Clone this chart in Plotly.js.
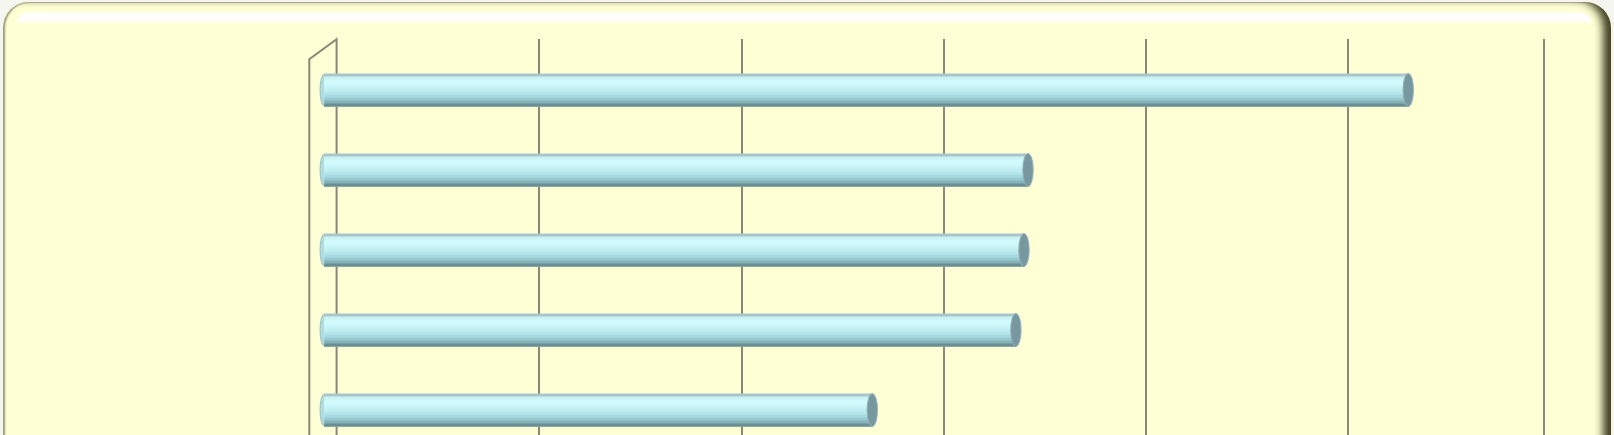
<!DOCTYPE html>
<html>
<head>
<meta charset="utf-8">
<script src="https://cdn.plot.ly/plotly-3.0.1.min.js"></script>
<style>
  html, body { margin: 0; padding: 0; width: 1614px; height: 435px; overflow: hidden; background: #F6F6F0; }
  #panel {
    position: absolute; left: 3px; top: 2px; width: 1608px; height: 700px;
    border-radius: 26px; background: #FFFFD5;
    box-shadow: inset -11px 0 8px -3px rgba(55,55,25,0.95),
                inset 3px 0 2px -1px rgba(120,120,90,0.75),
                inset 0 2px 1px -1px rgba(190,190,160,0.8);
  }
  #gloss {
    position: absolute; left: 13px; right: 19px; top: 10px; height: 13px;
    border-radius: 18px 18px 0 0;
    background: linear-gradient(to bottom, rgba(255,255,255,0.5) 0%, #FFFFFF 25%, #FFFFFF 55%, rgba(255,255,255,0) 100%);
  }
  #chart { position: absolute; left: 0; top: 0; width: 1614px; height: 435px; }
</style>
</head>
<body>
<div id="panel"><div id="gloss"></div></div>
<div id="chart"></div>
<script>
// ---- data ----
const categories = ['Category 1', 'Category 2', 'Category 3', 'Category 4', 'Category 5'];
const values = [5.36, 3.48, 3.46, 3.42, 2.71];
const tickValues = [0, 1, 2, 3, 4, 5];

// ---- styles / geometry ----
const W = 1614, H = 435;
const M = { l: 300, r: 50, t: 39, b: 0 };
const plotW = W - M.l - M.r, plotH = H - M.t - M.b;
const px2x = p => (p - M.l) / plotW;
const px2y = p => 1 - (p - M.t) / plotH;

const xRange = [-0.003, 5.967];
const backLeft = 336.6, backRight = 1544;
const pxPerUnit = (backRight - backLeft) / (xRange[1] - xRange[0]);
const depthShift = 13;                       // bars sit in front of the back wall
const x2Range = [-0.05, 5.967];
const x2Start = backLeft - depthShift + (x2Range[0] - xRange[0]) * pxPerUnit;
const x2End = x2Start + (x2Range[1] - x2Range[0]) * pxPerUnit;

const gridColor = '#888876';
const barWidth = 0.4125;
const bandColors = ['#A9C7C9', '#CAF3F5', '#D1FAFC', '#CFF9FB', '#C9F4F7', '#C1EEF2',
                    '#B6E6EB', '#A8DBE1', '#98CBD1', '#86B3B8', '#6E8E91'];
const bandH = barWidth / bandColors.length;

// grid carrier on the back-wall axis (invisible points at the tick values)
const traces = [{
  type: 'scatter', mode: 'markers', x: tickValues, y: tickValues.map(() => categories[0]),
  xaxis: 'x', yaxis: 'y', marker: { opacity: 0, size: 1 }, hoverinfo: 'skip', showlegend: false
}];
// cylinder shading: each band runs from its top edge to the bar's bottom, later bands cover earlier
bandColors.forEach((c, i) => {
  traces.push({
    type: 'bar', orientation: 'h',
    x: values, y: categories,
    xaxis: 'x2', yaxis: 'y',
    width: barWidth - i * bandH, offset: -barWidth / 2 + i * bandH,
    marker: { color: c, line: { width: 0 } },
    hoverinfo: 'skip', showlegend: false
  });
});

const capHalf = 5.2 / pxPerUnit;
const shapes = [];
// 3D frame: front edge, diagonal, back-left edge
shapes.push({
  type: 'path', xref: 'paper', yref: 'paper', layer: 'below',
  path: `M ${px2x(309.3)} ${px2y(H + 5)} L ${px2x(309.3)} ${px2y(59.3)} L ${px2x(backLeft)} ${px2y(39.3)} L ${px2x(backLeft)} ${px2y(H + 5)}`,
  line: { color: gridColor, width: 2 }
});
// back wall right edge
shapes.push({
  type: 'line', xref: 'paper', yref: 'paper', layer: 'below',
  x0: px2x(backRight), x1: px2x(backRight), y0: 1, y1: px2y(H + 5),
  line: { color: gridColor, width: 2 }
});
values.forEach((v, i) => {
  // rounded left end
  shapes.push({
    type: 'circle', xref: 'x2', yref: 'y', layer: 'below',
    x0: -capHalf * 0.8, x1: capHalf * 0.8,
    y0: i - barWidth / 2 + 0.006, y1: i + barWidth / 2 - 0.006,
    fillcolor: '#B0DCE1', line: { color: '#9CBFC3', width: 1 }
  });
  // end cap
  shapes.push({
    type: 'circle', xref: 'x2', yref: 'y', layer: 'above',
    x0: v - capHalf, x1: v + capHalf,
    y0: i - barWidth / 2, y1: i + barWidth / 2,
    fillcolor: '#7898A0', line: { color: '#94B2B8', width: 1 }
  });
});

const layout = {
  width: W, height: H,
  margin: { l: M.l, r: M.r, t: M.t, b: M.b, pad: 0 },
  paper_bgcolor: 'rgba(0,0,0,0)', plot_bgcolor: 'rgba(0,0,0,0)',
  barmode: 'overlay', showlegend: false,
  xaxis: {
    domain: [px2x(backLeft), px2x(backRight)], range: xRange, anchor: 'y',
    tickmode: 'array', tickvals: tickValues, showticklabels: false, ticks: '',
    showgrid: true, gridcolor: gridColor, gridwidth: 2, zeroline: false, showline: false,
    fixedrange: true
  },
  xaxis2: {
    domain: [px2x(x2Start), px2x(x2End)], range: x2Range, anchor: 'y',
    visible: false, showgrid: false, zeroline: false, fixedrange: true
  },
  yaxis: {
    type: 'category', categoryarray: categories, range: [4.3125, -0.6375],
    showgrid: false, zeroline: false, showticklabels: false, ticks: '', showline: false,
    fixedrange: true
  },
  shapes: shapes
};

Plotly.newPlot('chart', traces, layout, { displayModeBar: false, staticPlot: true });
</script>
</body>
</html>
